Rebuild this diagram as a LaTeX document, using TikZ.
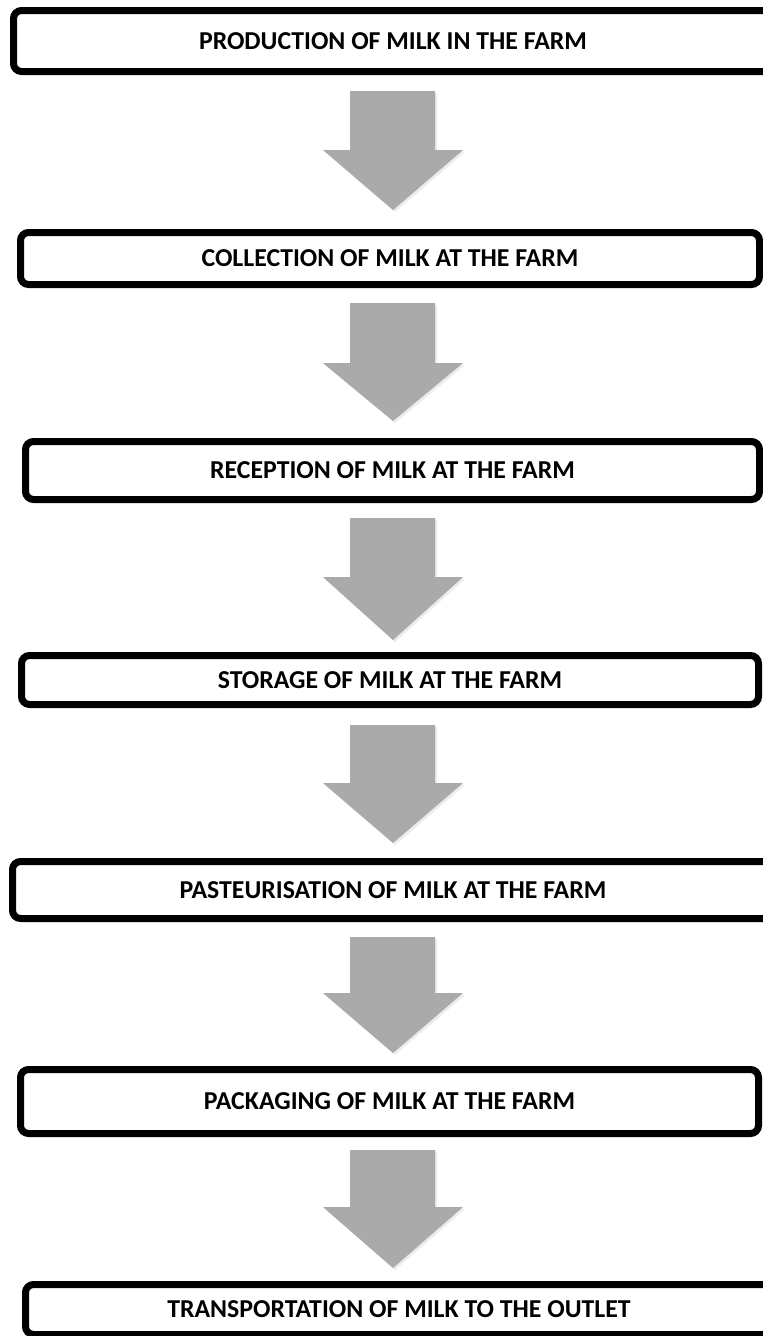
\documentclass[tikz,border=0pt]{standalone}
\usepackage{fontspec}
\setmainfont{Carlito}
\usetikzlibrary{shadows}
\definecolor{arrowgray}{RGB}{170,170,170}
\tikzset{
  stage/.style={draw=black, line width=7pt, rounded corners=8pt, fill=white,
    inner sep=0pt, align=center,
    font=\fontsize{25.8}{30}\selectfont\bfseries,
    drop shadow={shadow xshift=1pt, shadow yshift=-3pt, opacity=0.3}},
  flowarrow/.style={fill=arrowgray,
    drop shadow={shadow xshift=2pt, shadow yshift=-2pt, opacity=0.15}}
}
\newcommand\FlowArr[4]{%
  \coordinate (#1) at (393,#2);
  \path[flowarrow] (350,#2) -- (435,#2) -- (435,#3) -- (463,#3) -- (393,#4) -- (323,#3) -- (350,#3) -- cycle;
}
\begin{document}
\begin{tikzpicture}[x=1pt,y=-1pt]
\useasboundingbox[fill=white] (0,0) rectangle (763,1336);
\clip (0,0) rectangle (763,1336);
\node[stage, minimum width=759pt, minimum height=61pt] (b1) at (393,41) {PRODUCTION OF MILK IN THE FARM};
\node[stage, minimum width=739pt, minimum height=52pt] (b2) at (390,258.5) {COLLECTION OF MILK AT THE FARM};
\node[stage, minimum width=734pt, minimum height=58pt] (b3) at (392.5,470.5) {RECEPTION OF MILK AT THE FARM};
\node[stage, minimum width=737pt, minimum height=49pt] (b4) at (390,680) {STORAGE OF MILK AT THE FARM};
\node[stage, minimum width=761pt, minimum height=57pt] (b5) at (393,890) {PASTEURISATION OF MILK AT THE FARM};
\node[stage, minimum width=738pt, minimum height=64pt] (b6) at (389.5,1101.5) {PACKAGING OF MILK AT THE FARM};
\node[stage, minimum width=747pt, minimum height=50pt] (b7) at (399,1309.5) {TRANSPORTATION OF MILK TO THE OUTLET};
\FlowArr{a1}{91}{150}{210}
\FlowArr{a2}{303}{363}{421}
\FlowArr{a3}{518}{577}{640}
\FlowArr{a4}{725}{783}{843}
\FlowArr{a5}{937}{993}{1053}
\FlowArr{a6}{1150}{1207}{1268}
\end{tikzpicture}
\end{document}
